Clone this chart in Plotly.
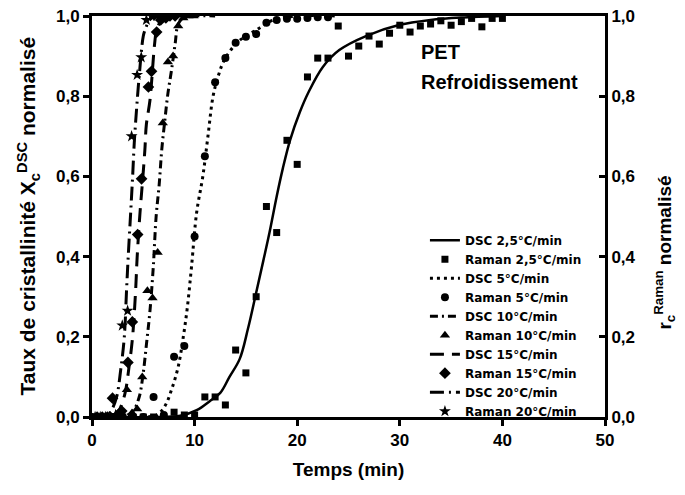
import plotly.graph_objects as go

# DSC 2,5 °C/min (trait plein) et Raman 2,5 °C/min (carrés)
t_dsc25 = [0, 6, 8.6, 10.2, 11.5, 12.5, 13.4, 14.4, 15.2, 16.0, 16.7, 17.3, 18.0, 18.6, 19.3, 20.25, 21.1, 22.5, 24.1, 26.7, 30, 33, 36, 40]
x_dsc25 = [0, 0, 0.003, 0.017, 0.04, 0.06, 0.10, 0.145, 0.22, 0.31, 0.39, 0.46, 0.55, 0.62, 0.69, 0.76, 0.81, 0.873, 0.915, 0.95, 0.978, 0.99, 0.996, 1.0]
t_ram25 = list(range(0, 41))
x_ram25 = [0, 0, 0, 0, 0, 0, 0, 0, 0.012, 0.005, 0.005, 0.05, 0.05, 0.03, 0.167, 0.11, 0.30, 0.525, 0.46, 0.69, 0.63,
           0.848, 0.895, 0.895, 0.975, 0.90, 0.925, 0.95, 0.93, 0.957, 0.977, 0.96, 0.975, 0.98, 0.988, 0.977, 0.986,
           0.994, 0.973, 0.994, 0.994]

# 5 °C/min
t_dsc5 = [0, 5, 6.3, 7.1, 7.75, 8.4, 8.9, 9.3, 9.7, 10.2, 10.8, 11.3, 11.8, 12.3, 12.9, 14.2, 16, 17.7, 20, 24]
x_dsc5 = [0, 0, 0.005, 0.027, 0.068, 0.125, 0.20, 0.275, 0.375, 0.51, 0.6, 0.70, 0.80, 0.85, 0.89, 0.935, 0.965, 0.99, 1.0, 1.0]
t_ram5 = list(range(0, 24))
x_ram5 = [0, 0, 0, 0, 0, 0, 0.05, 0.005, 0.15, 0.177, 0.45, 0.65, 0.835, 0.895, 0.933, 0.948, 0.955, 0.983, 0.99,
          0.993, 0.993, 0.995, 0.997, 0.997]

# 10 °C/min
t_dsc10 = [0, 3.0, 4.0, 4.6, 4.98, 5.3, 5.65, 5.97, 6.25, 6.55, 6.8, 7.1, 7.4, 7.75, 8.1, 8.4, 8.9, 10, 12]
x_dsc10 = [0, 0, 0.015, 0.05, 0.107, 0.18, 0.265, 0.373, 0.50, 0.58, 0.667, 0.74, 0.807, 0.865, 0.93, 0.98, 0.995, 1, 1]
t_ram10 = [0.4, 0.9, 1.4, 1.9, 2.4, 2.9, 3.4, 3.9, 4.4, 4.9, 5.4, 5.9, 6.4, 6.9, 7.4, 7.9, 8.4, 8.9, 9.4, 9.9]
x_ram10 = [0, 0, 0, 0, 0, 0.005, 0.068, 0.01, 0.02, 0.10, 0.315, 0.297, 0.41, 0.733, 0.885, 0.90, 0.975, 0.995, 1.0, 1.0]

# 15 °C/min
t_dsc15 = [0, 2.0, 2.6, 3.2, 3.6, 3.95, 4.25, 4.4, 4.68, 4.9, 5.15, 5.3, 5.65, 6.1, 6.3, 6.8, 7.5, 9]
x_dsc15 = [0, 0, 0.015, 0.057, 0.123, 0.198, 0.315, 0.398, 0.51, 0.58, 0.665, 0.73, 0.79, 0.93, 0.965, 0.99, 1, 1]
t_ram15 = [0.5, 1.0, 1.5, 2.0, 2.5, 2.9, 3.5, 3.93, 4.45, 4.83, 5.5, 5.8, 6.3, 6.7, 7.2, 7.6, 8.1]
x_ram15 = [0, 0, 0, 0.047, 0.005, 0.015, 0.136, 0.237, 0.455, 0.594, 0.823, 0.862, 0.96, 0.99, 0.995, 1.0, 1.0]

# 20 °C/min
t_dsc20 = [0, 1.3, 1.9, 2.4, 2.8, 3.15, 3.37, 3.53, 3.77, 3.96, 4.12, 4.35, 4.6, 5.0, 5.2, 5.6, 6.2, 8]
x_dsc20 = [0, 0, 0.017, 0.05, 0.118, 0.2, 0.318, 0.40, 0.51, 0.60, 0.684, 0.77, 0.85, 0.95, 0.967, 0.99, 1, 1]
t_ram20 = [0.3, 0.8, 1.3, 1.8, 2.3, 2.95, 3.47, 3.86, 4.4, 4.8, 5.3, 5.8, 6.3]
x_ram20 = [0, 0, 0, 0, 0.005, 0.228, 0.265, 0.70, 0.853, 0.897, 0.99, 1.0, 1.0]

y_ticks = [0, 0.2, 0.4, 0.6, 0.8, 1.0]
x_ticks = [0, 10, 20, 30, 40, 50]

FONT = "Liberation Sans, Arial, sans-serif"
fig = go.Figure()


def dsc(t, x, name, dash, width=2.5):
    fig.add_trace(go.Scatter(x=t, y=x, name=name, mode="lines", line_shape="spline",
                             line=dict(color="black", width=width, dash=dash)))


def raman(t, x, name, symbol, size):
    fig.add_trace(go.Scatter(x=t, y=x, name=name, mode="markers", yaxis="y2",
                             marker=dict(color="black", symbol=symbol, size=size)))


dsc(t_dsc25, x_dsc25, "DSC 2,5°C/min", "solid")
raman(t_ram25, x_ram25, "Raman 2,5°C/min", "square", 7)
dsc(t_dsc5, x_dsc5, "DSC 5°C/min", "3px,4px", 3)
raman(t_ram5, x_ram5, "Raman 5°C/min", "circle", 8)
dsc(t_dsc10, x_dsc10, "DSC 10°C/min", "8px,4px,2px,4px", 3)
raman(t_ram10, x_ram10, "Raman 10°C/min", "triangle-up", 9)
dsc(t_dsc15, x_dsc15, "DSC 15°C/min", "14px,8px", 3)
raman(t_ram15, x_ram15, "Raman 15°C/min", "diamond", 9)
dsc(t_dsc20, x_dsc20, "DSC 20°C/min", "14px,5px,2px,5px", 3)
raman(t_ram20, x_ram20, "Raman 20°C/min", "star", 9)

axis_common = dict(showline=True, linecolor="black", linewidth=3, ticks="outside", ticklen=6,
                   tickwidth=3, tickcolor="black", showgrid=False, zeroline=False, automargin=False,
                   ticklabeloverflow="allow",
                   tickfont=dict(size=17, family=FONT, color="black", weight="bold"))

fig.update_layout(
    width=685, height=495,
    margin=dict(l=84, r=88, t=8, b=86),
    plot_bgcolor="white", paper_bgcolor="white",
    separators=",.",
    font=dict(family=FONT, color="black", weight="bold"),
    xaxis=dict(range=[0, 50], tickvals=x_ticks, mirror=True,
               title=dict(text="Temps (min)", font=dict(size=19, family=FONT, weight="bold"), standoff=14),
               **axis_common),
    yaxis=dict(range=[0, 1], tickvals=y_ticks, tickformat=".1f", **axis_common),
    yaxis2=dict(range=[0, 1], tickvals=y_ticks, tickformat=".1f", overlaying="y", side="right",
                **{**axis_common, "ticks": "inside"}),
    legend=dict(x=0.649, y=0.477, xanchor="left", yanchor="top", bgcolor="rgba(0,0,0,0)",
                font=dict(size=12, family="DejaVu Sans", weight="bold"), tracegroupgap=0),
    annotations=[
        dict(text="PET", x=31.9, y=0.91, xref="x", yref="y", showarrow=False, xanchor="left",
             font=dict(size=20, family=FONT, weight="bold")),
        dict(text="Refroidissement", x=31.9, y=0.835, xref="x", yref="y", showarrow=False, xanchor="left",
             font=dict(size=20, family=FONT, weight="bold")),
        dict(text="Taux de cristallinité X<sub>c</sub><sup>DSC</sup> normalisé", x=0, xshift=-64, y=0.5,
             xref="paper", yref="paper", xanchor="center", yanchor="middle", textangle=-90,
             showarrow=False, font=dict(size=21, family=FONT, weight="bold")),
        dict(text="r<sub>c</sub><sup>Raman</sup> normalisé", x=1.0, xshift=60, y=0.41, xref="paper",
             yref="paper", xanchor="center", yanchor="middle", textangle=-90, showarrow=False,
             font=dict(size=19, family=FONT, weight="bold")),
    ],
)

fig.write_html("out.html")
